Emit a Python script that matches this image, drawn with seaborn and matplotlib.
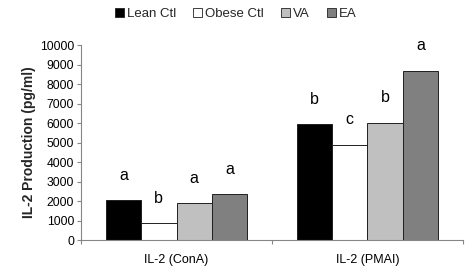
import matplotlib.pyplot as plt
import matplotlib.patches as mpatches
import pandas as pd
import seaborn as sns

STIMULI = ["IL-2 (ConA)", "IL-2 (PMAI)"]
GROUPS = ["Lean Ctl", "Obese Ctl", "VA", "EA"]
LEAN = [2050, 5950]
OBESE = [860, 4900]
VA = [1880, 6020]
EA = [2360, 8680]
LETTERS = {
    "Lean Ctl": ["a", "b"],
    "Obese Ctl": ["b", "c"],
    "VA": ["a", "b"],
    "EA": ["a", "a"],
}
COLORS = {"Lean Ctl": "#000000", "Obese Ctl": "#FFFFFF", "VA": "#C0C0C0", "EA": "#808080"}


def main() -> None:
    sns.set_theme(style="white")
    plt.rcParams["font.family"] = ["Liberation Sans", "DejaVu Sans"]

    rows = []
    for grp, vals in zip(GROUPS, [LEAN, OBESE, VA, EA]):
        for stim, v in zip(STIMULI, vals):
            rows.append({"stim": stim, "group": grp, "value": v})
    df = pd.DataFrame(rows)

    fig = plt.figure(figsize=(4.71, 2.75), dpi=100)
    ax = fig.add_axes([0.172, 0.127, 0.811, 0.709])

    sns.barplot(
        data=df, x="stim", y="value", hue="group",
        order=STIMULI, hue_order=GROUPS, palette=COLORS,
        width=0.74, gap=0, edgecolor="#202020", linewidth=0.7,
        errorbar=None, legend=False, ax=ax,
    )

    # significance letters above each bar
    for container, grp in zip(ax.containers, GROUPS):
        for bar, letter in zip(container, LETTERS[grp]):
            ax.text(bar.get_x() + bar.get_width() / 2, bar.get_height() + 900,
                    letter, ha="center", va="bottom", fontsize=11.5, color="black")

    ax.set_ylim(0, 10000)
    ax.set_xlim(-0.5, 1.5)
    ax.set_yticks(range(0, 10001, 1000))
    ax.set_xlabel("")
    ax.set_ylabel("IL-2 Production (pg/ml)", fontsize=10, fontweight="bold", labelpad=3)

    for side in ("top", "right"):
        ax.spines[side].set_visible(False)
    for side in ("left", "bottom"):
        ax.spines[side].set_color("#868686")
        ax.spines[side].set_linewidth(0.8)

    ax.tick_params(axis="y", which="major", left=True, length=3, width=0.8,
                   color="#868686", labelsize=8.7, pad=2, labelcolor="black")
    ax.tick_params(axis="x", which="major", bottom=False, labelsize=9, pad=4,
                   labelcolor="black")
    ax.set_xticks([-0.5, 0.5, 1.5], minor=True)
    ax.tick_params(axis="x", which="minor", bottom=True, length=3, width=0.8,
                   color="#868686")

    handles = [mpatches.Patch(facecolor=COLORS[g], edgecolor="#202020",
                              linewidth=0.6, label=g) for g in GROUPS]
    fig.legend(handles=handles, loc="center", bbox_to_anchor=(0.5, 0.95),
               ncol=4, frameon=False, fontsize=9.5, handlelength=0.7,
               handleheight=0.7, handletextpad=0.2, columnspacing=1.3)

    fig.savefig("out.png", dpi=100)
    plt.close(fig)


if __name__ == "__main__":
    main()
